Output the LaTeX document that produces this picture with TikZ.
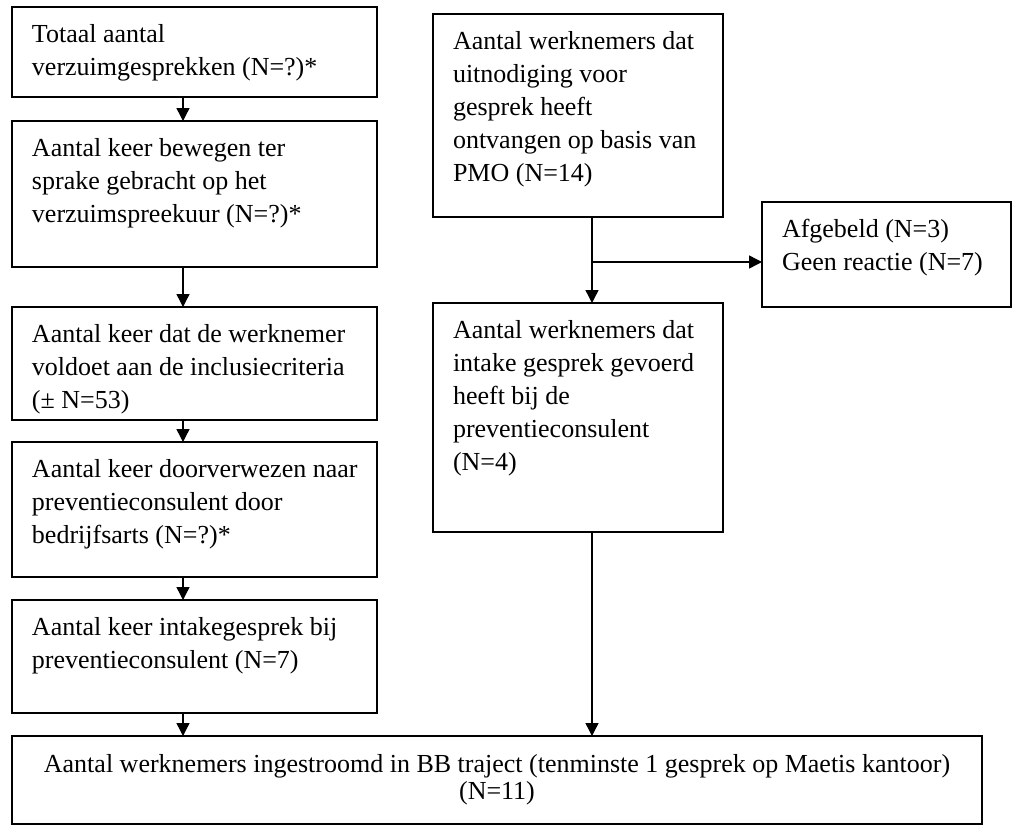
\documentclass[tikz,border=0pt]{standalone}
\usepackage{fontspec}
\setmainfont{Liberation Serif}
\usetikzlibrary{arrows.meta}
\newlength{\pxu}
\setlength{\pxu}{0.5pt}
\newcommand{\flowtext}[3]{\parbox[t][#2\pxu][t]{#1\pxu}{\begin{tabular}[t]{@{}l@{}}#3\end{tabular}}}
\begin{document}
\begin{tikzpicture}[x=0.5pt,y=-0.5pt]
  % styles
  \tikzset{flowbox/.style={draw,line width=1pt,anchor=north west,inner xsep=20\pxu,inner ysep=12\pxu,outer sep=0pt,font=\fontsize{13}{16.5}\selectfont}}
  \tikzset{flowarrow/.style={line width=0.7pt,-{Triangle[length=6.5pt,width=6.5pt]}}}
  \useasboundingbox (0,0) rectangle (1013,825);
  % left column
  \node[flowbox] (totaal) at (12,7) {\flowtext{325}{66}{Totaal aantal\\verzuimgesprekken (N=?)*}};
  \node[flowbox] (bewegen) at (12,121) {\flowtext{325}{122}{Aantal keer bewegen ter\\sprake gebracht op het\\verzuimspreekuur (N=?)*}};
  \node[flowbox] (criteria) at (12,307) {\flowtext{325}{89}{Aantal keer dat de werknemer\\voldoet aan de inclusiecriteria\\(± N=53)}};
  \node[flowbox] (verwezen) at (12,442) {\flowtext{325}{111}{Aantal keer doorverwezen naar\\preventieconsulent door\\bedrijfsarts (N=?)*}};
  \node[flowbox] (intake) at (12,600) {\flowtext{325}{89}{Aantal keer intakegesprek bij\\preventieconsulent (N=7)}};
  % right column
  \node[flowbox] (pmo) at (433,14) {\flowtext{250}{179}{Aantal werknemers dat\\uitnodiging voor\\gesprek heeft\\ontvangen op basis van\\PMO (N=14)}};
  \node[flowbox] (afgebeld) at (762,202) {\flowtext{209}{81}{Afgebeld (N=3)\\Geen reactie (N=7)}};
  \node[flowbox] (gevoerd) at (433,303) {\flowtext{250}{205}{Aantal werknemers dat\\intake gesprek gevoerd\\heeft bij de\\preventieconsulent\\(N=4)}};
  % bottom
  \node[flowbox,inner ysep=18\pxu,font=\fontsize{13}{12.5}\selectfont] (traject) at (12,736)
    {\parbox[t][52\pxu][t]{930\pxu}{\centering\strut Aantal werknemers ingestroomd in BB traject (tenminste 1 gesprek op Maetis kantoor)\\(N=11)}};
  % arrows
  \coordinate (lcol) at (183,0);
  \coordinate (rcol) at (592,0);
  \draw[flowarrow] (totaal.south -| lcol) -- (bewegen.north -| lcol);
  \draw[flowarrow] (bewegen.south -| lcol) -- (criteria.north -| lcol);
  \draw[flowarrow] (criteria.south -| lcol) -- (verwezen.north -| lcol);
  \draw[flowarrow] (verwezen.south -| lcol) -- (intake.north -| lcol);
  \draw[flowarrow] (intake.south -| lcol) -- (traject.north -| lcol);
  \draw[flowarrow] (pmo.south -| rcol) -- (gevoerd.north -| rcol);
  \coordinate (split) at (592,262);
  \draw[flowarrow] (split) -- (split -| afgebeld.west);
  \draw[flowarrow] (gevoerd.south -| rcol) -- (traject.north -| rcol);
\end{tikzpicture}
\end{document}
